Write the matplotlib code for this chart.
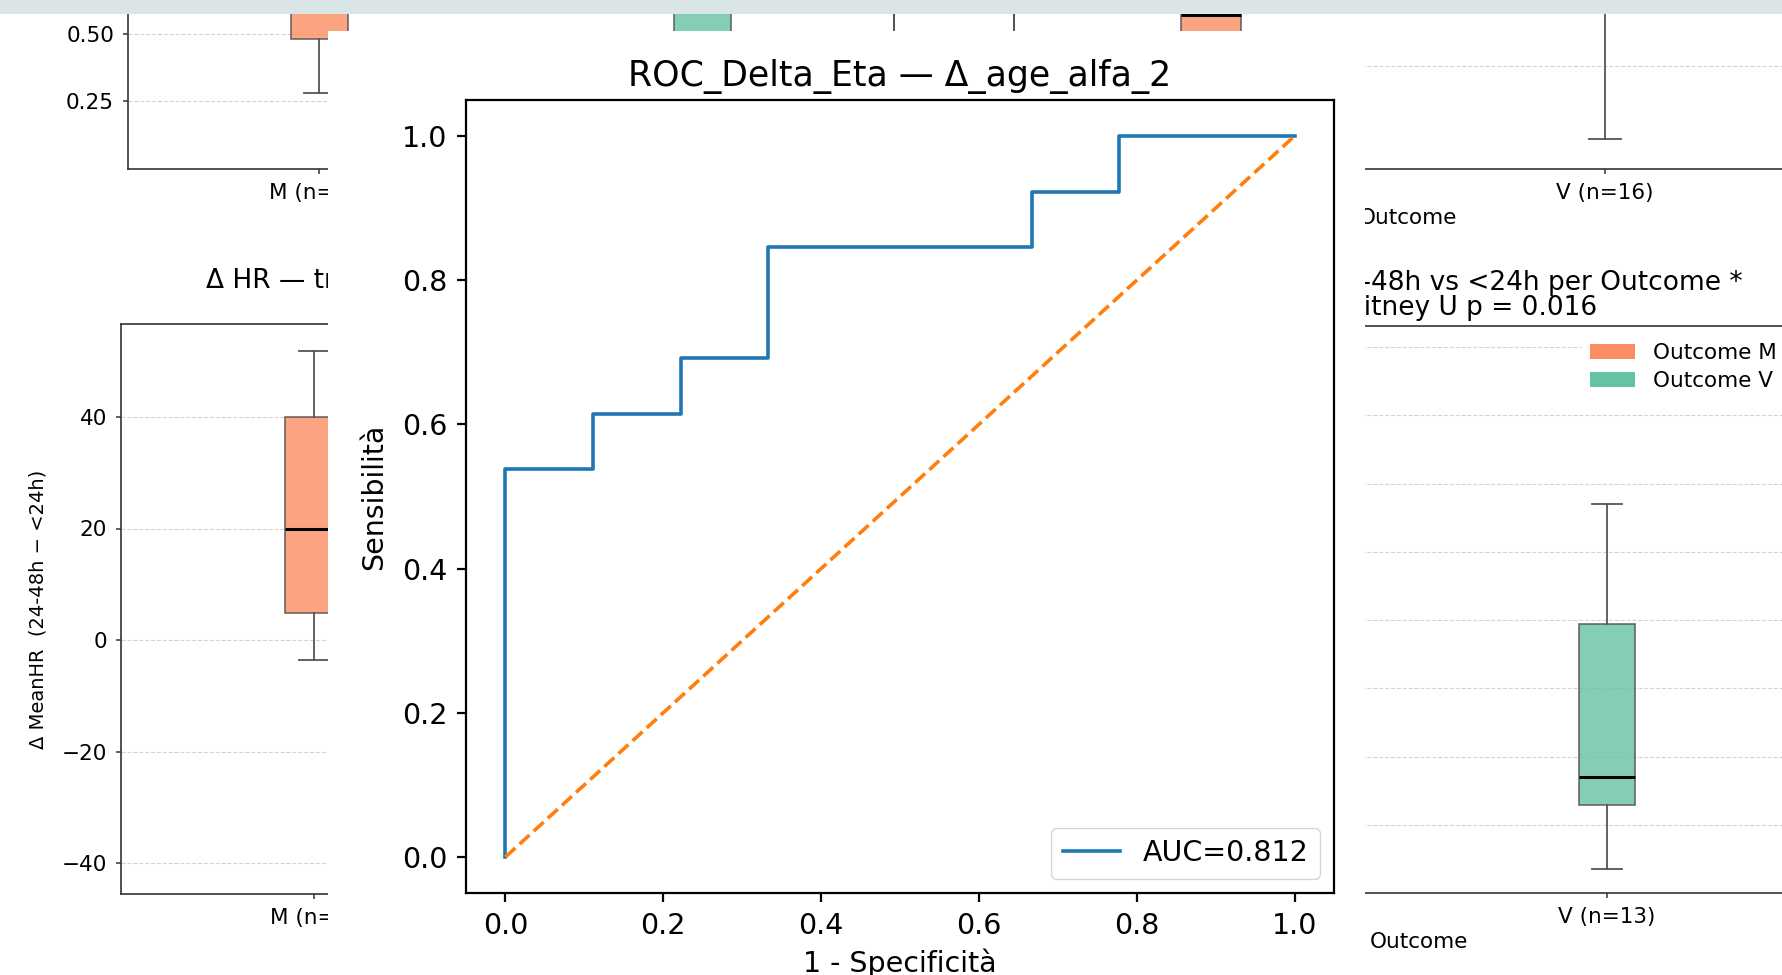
"""
ROC curve for Delta_Eta (Δ_age_alfa_2) shown on top of the outcome box plots
"""

### Import modules
import numpy as np
import matplotlib.pyplot as plt
from matplotlib.patches import Rectangle, Patch

### ROC data
fpr = [0.0, 0.0, 0.111, 0.111, 0.222, 0.222, 0.333, 0.333, 0.667, 0.667, 0.778, 0.778, 1.0]
tpr = [0.0, 0.538, 0.538, 0.615, 0.615, 0.692, 0.692, 0.846, 0.846, 0.923, 0.923, 1.0, 1.0]
roc_title = 'ROC_Delta_Eta — Δ_age_alfa_2'

### Box plot summaries per outcome (whislo, q1, med, q3, whishi)
outcomes = ['M', 'V']
top_left_n = [12, 16]
top_left_box = [[0.28, 0.48, 0.62, 0.70, 0.80],
                [0.12, 0.38, 0.47, 0.66, 0.90]]
top_right_n = [12, 16]
top_right_box = [[0.20, 0.42, 0.732, 0.95, 1.30],
                 [0.168, 0.78, 0.90, 1.00, 1.20]]
hr_n = [9, 13]
hr_box = [[-3.6, 4.8, 20.0, 40.0, 51.8],
          [-30.0, -12.0, -2.0, 8.0, 30.0]]
hr_title = 'Δ HR — trend 24-48h vs <24h per Outcome *\nMann-Whitney U p = 0.031'
delta_n = [9, 13]
delta_box = [[-20.0, -5.0, 8.0, 22.0, 38.0],
             [-36.4, -27.0, -23.0, -0.6, 17.0]]
delta_title = 'Δ MeanHR: trend 24-48h vs <24h per Outcome *\nMann-Whitney U p = 0.016'

set2 = {'M': '#fc8d62', 'V': '#66c2a5'}

### Canvas in pixels
W, H = 1783, 975
fig = plt.figure(figsize=(W / 100, H / 100), dpi=100)

def box_px(l, t, r, b):
    return [l / W, 1 - b / H, (r - l) / W, (b - t) / H]

def ylim_from(t, b, v1, p1, v2, p2):
    k = (p2 - p1) / (v1 - v2)
    return v2 - (b - p2) / k, v1 + (p1 - t) / k

def outcome_panel(rect, boxes, ns, calib, yticks):
    ax = fig.add_axes(box_px(*rect))
    stats = [dict(whislo=b[0], q1=b[1], med=b[2], q3=b[3], whishi=b[4], fliers=[])
             for b in boxes]
    bp = ax.bxp(stats, positions=[0, 1], widths=0.15, capwidths=0.08,
                patch_artist=True, showfliers=False,
                boxprops=dict(edgecolor='#555555', linewidth=1.3),
                whiskerprops=dict(color='#555555', linewidth=1.3),
                capprops=dict(color='#555555', linewidth=1.3),
                medianprops=dict(color='black', linewidth=2.2))
    for patch, o in zip(bp['boxes'], outcomes):
        patch.set_facecolor(set2[o])
        patch.set_alpha(0.8)
    ax.set_xticks([0, 1], ['%s (n=%d)' % (o, n) for o, n in zip(outcomes, ns)])
    ax.set_yticks(yticks)
    ax.set_xlim(-0.5, 1.5)
    ax.set_ylim(*ylim_from(rect[1], rect[3], *calib))
    ax.tick_params(labelsize=15.5, color='#333333', width=1.1, pad=6.5)
    ax.yaxis.grid(True, linestyle='--', color='#d4d4d4', linewidth=0.8)
    ax.set_axisbelow(True)
    for s in ax.spines.values():
        s.set_color('#333333')
        s.set_linewidth(1.2)
    return ax

### Background panels
ax1 = outcome_panel((128, 0, 894, 169), top_left_box, top_left_n,
                    (0.5, 34, 0.25, 101), [0.25, 0.5])
ax1.set_xlabel('Outcome', fontsize=15.5, labelpad=3.5)

ax2 = outcome_panel((1014, 0, 1802, 169), top_right_box, top_right_n,
                    (0.5, 66, 0.0, 176), [0.5])
ax2.set_xlabel('Outcome', fontsize=15.5, labelpad=3.5)

ax3 = outcome_panel((121, 324, 893, 894), hr_box, hr_n,
                    (40, 417, -40, 863), [-40, -20, 0, 20, 40])
ax3.set_title(hr_title, fontsize=19, linespacing=0.92, pad=8)
ax3.set_ylabel('Δ MeanHR  (24-48h − <24h)', fontsize=14, labelpad=10)
ax3.set_xlabel('Outcome', fontsize=15.5, labelpad=4)

ax4 = outcome_panel((1043, 326, 1795, 893), delta_box, delta_n,
                    (40, 347, -30, 825), list(range(-30, 41, 10)))
ax4.set_title(delta_title, fontsize=19, linespacing=0.92, pad=8)
ax4.set_xlabel('Outcome', fontsize=15.5, labelpad=4)
ax4.legend(handles=[Patch(facecolor=set2[o], label='Outcome %s' % o) for o in outcomes],
           loc='upper right', bbox_to_anchor=(1.001, 1.004), fontsize=15.5,
           frameon=True, framealpha=1, edgecolor='white', handlelength=2.1,
           labelspacing=0.35)

### White window behind the ROC plot
fig.add_artist(Rectangle((328 / W, 0), (1365 - 328) / W, (975 - 31) / H,
                         transform=fig.transFigure, facecolor='white',
                         edgecolor='none', zorder=5))

### ROC plot
auc = np.trapezoid(tpr, fpr)
ax = fig.add_axes(box_px(466, 100, 1334, 893))
ax.set_zorder(10)
ax.plot(fpr, tpr, color='#1f77b4', lw=2.6, label='AUC=%.3f' % auc)
ax.plot([0, 1], [0, 1], linestyle='--', color='#ff7f0e', lw=2.6)
ax.set_title(roc_title, fontsize=25, pad=10)
ax.set_xlabel('1 - Specificità', fontsize=20.5, labelpad=6)
ax.set_ylabel('Sensibilità', fontsize=20.5, labelpad=10)
ax.tick_params(labelsize=20.5, length=6.5, width=1.6, pad=7)
for s in ax.spines.values():
    s.set_linewidth(1.6)
ax.legend(loc='lower right', fontsize=20.5)

### Title bar strip
fig.add_artist(Rectangle((0, 1 - 14 / H), 1, 14 / H, transform=fig.transFigure,
                         facecolor='#d9e5e7', edgecolor='none', zorder=20))

plt.savefig('out.png', dpi=100)
